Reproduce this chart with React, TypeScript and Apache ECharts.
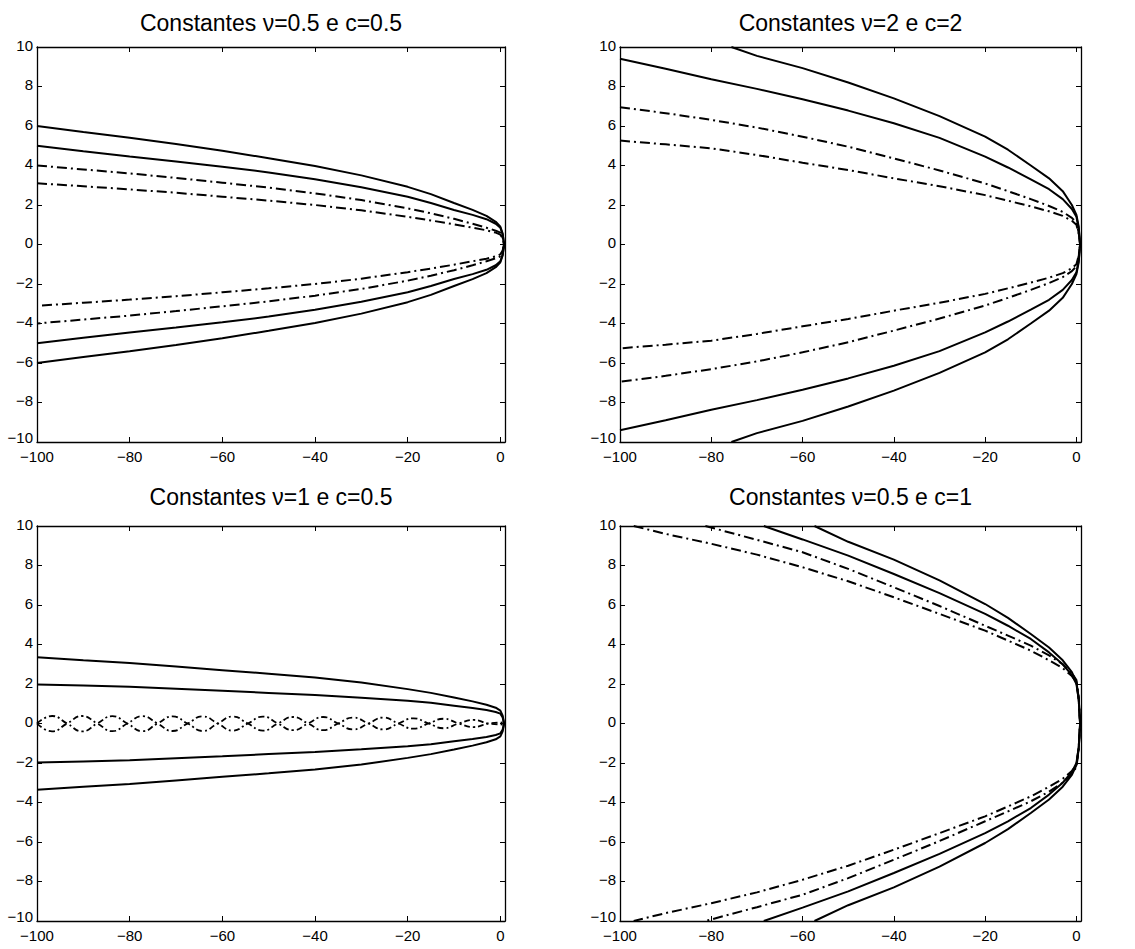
import React, { useEffect, useRef } from "react";
import * as echarts from "echarts";

const xTickValues = [-100, -80, -60, -40, -20, 0];
const yTickValues = [-10, -8, -6, -4, -2, 0, 2, 4, 6, 8, 10];
const titles = [
  "Constantes \u03bd=0.5 e c=0.5",
  "Constantes \u03bd=2 e c=2",
  "Constantes \u03bd=1 e c=0.5",
  "Constantes \u03bd=0.5 e c=1",
];

// ---------- Plot 1: nu=0.5, c=0.5 ----------
const p1X = [-100, -90, -80, -70, -60, -50, -40, -30, -20, -15, -10, -6, -3, -1, 0, 0.5, 0.8];
const p1SolidAUp = [6.0, 5.7, 5.41, 5.09, 4.75, 4.37, 3.97, 3.5, 2.92, 2.55, 2.1, 1.75, 1.45, 1.15, 0.9, 0.55, 0];
const p1SolidALo = [-6.0, -5.7, -5.41, -5.09, -4.75, -4.37, -3.97, -3.5, -2.92, -2.55, -2.1, -1.75, -1.45, -1.15, -0.9, -0.55, 0];
const p1SolidBUp = [5.0, 4.72, 4.45, 4.2, 3.94, 3.65, 3.3, 2.9, 2.42, 2.1, 1.75, 1.5, 1.28, 1.05, 0.85, 0.5, 0];
const p1SolidBLo = [-5.0, -4.72, -4.45, -4.2, -3.94, -3.65, -3.3, -2.9, -2.42, -2.1, -1.75, -1.5, -1.28, -1.05, -0.85, -0.5, 0];
const p1DashAUp = [4.0, 3.8, 3.6, 3.37, 3.13, 2.88, 2.59, 2.25, 1.83, 1.58, 1.3, 1.05, 0.85, 0.7, 0.6, 0.35, 0];
const p1DashALo = [-4.0, -3.8, -3.6, -3.37, -3.13, -2.88, -2.59, -2.25, -1.83, -1.58, -1.3, -1.05, -0.85, -0.7, -0.6, -0.35, 0];
const p1DashBUp = [3.1, 2.95, 2.79, 2.62, 2.42, 2.22, 2.0, 1.73, 1.4, 1.22, 1.02, 0.85, 0.72, 0.6, 0.5, 0.3, 0];
const p1DashBLo = [-3.1, -2.95, -2.79, -2.62, -2.42, -2.22, -2.0, -1.73, -1.4, -1.22, -1.02, -0.85, -0.72, -0.6, -0.5, -0.3, 0];

// ---------- Plot 2: nu=2, c=2 ----------
const p2XA = [-75.6, -70, -60, -50, -40, -30, -20, -15, -10, -6, -3, -1, 0, 0.5, 0.8];
const p2SolidAUp = [10, 9.55, 8.93, 8.2, 7.4, 6.5, 5.46, 4.8, 4.0, 3.35, 2.7, 2.0, 1.5, 0.9, 0];
const p2SolidALo = [-10, -9.55, -8.93, -8.2, -7.4, -6.5, -5.46, -4.8, -4.0, -3.35, -2.7, -2.0, -1.5, -0.9, 0];
const p2X = [-100, -90, -80, -70, -60, -50, -40, -30, -20, -15, -10, -6, -3, -1, 0, 0.5, 0.8];
const p2SolidBUp = [9.4, 8.9, 8.37, 7.88, 7.35, 6.78, 6.14, 5.4, 4.45, 3.9, 3.3, 2.8, 2.3, 1.8, 1.4, 0.8, 0];
const p2SolidBLo = [-9.4, -8.9, -8.37, -7.88, -7.35, -6.78, -6.14, -5.4, -4.45, -3.9, -3.3, -2.8, -2.3, -1.8, -1.4, -0.8, 0];
const p2DashAUp = [6.95, 6.65, 6.31, 5.92, 5.46, 4.95, 4.36, 3.75, 3.09, 2.7, 2.3, 1.95, 1.65, 1.35, 1.1, 0.6, 0];
const p2DashALo = [-6.95, -6.65, -6.31, -5.92, -5.46, -4.95, -4.36, -3.75, -3.09, -2.7, -2.3, -1.95, -1.65, -1.35, -1.1, -0.6, 0];
const p2DashBUp = [5.26, 5.07, 4.87, 4.53, 4.14, 3.77, 3.35, 2.95, 2.5, 2.22, 1.93, 1.68, 1.45, 1.2, 1.0, 0.55, 0];
const p2DashBLo = [-5.26, -5.07, -4.87, -4.53, -4.14, -3.77, -3.35, -2.95, -2.5, -2.22, -1.93, -1.68, -1.45, -1.2, -1.0, -0.55, 0];

// ---------- Plot 3: nu=1, c=0.5 ----------
const p3X = [-100, -90, -80, -70, -60, -50, -40, -30, -20, -15, -10, -6, -3, -1, 0, 0.5, 0.8];
const p3SolidAUp = [3.35, 3.2, 3.06, 2.88, 2.7, 2.52, 2.33, 2.08, 1.74, 1.55, 1.32, 1.12, 0.95, 0.8, 0.65, 0.4, 0];
const p3SolidALo = [-3.35, -3.2, -3.06, -2.88, -2.7, -2.52, -2.33, -2.08, -1.74, -1.55, -1.32, -1.12, -0.95, -0.8, -0.65, -0.4, 0];
const p3SolidBUp = [1.98, 1.92, 1.86, 1.76, 1.66, 1.55, 1.44, 1.31, 1.15, 1.05, 0.9, 0.78, 0.68, 0.58, 0.5, 0.3, 0];
const p3SolidBLo = [-1.98, -1.92, -1.86, -1.76, -1.66, -1.55, -1.44, -1.31, -1.15, -1.05, -0.9, -0.78, -0.68, -0.58, -0.5, -0.3, 0];
const p3WX = [-100, -96.75, -93.5, -90.25, -87, -83.75, -80.5, -77.25, -74, -70.75, -67.5, -64.25, -61, -57.75, -54.5, -51.25, -48, -44.75, -41.5, -38.25, -35, -31.75, -28.5, -25.25, -22, -18.75, -15.5, -12.25, -9, -5.75, -2.5, 0.5];
const p3WaveA = [0, 0.38, 0, -0.4, 0, 0.37, 0, -0.39, 0, 0.36, 0, -0.38, 0, 0.35, 0, -0.36, 0, 0.33, 0, -0.34, 0, 0.3, 0, -0.3, 0, 0.26, 0, -0.24, 0, 0.18, 0, -0.05];
const p3WaveB = [0, -0.4, 0, 0.38, 0, -0.39, 0, 0.37, 0, -0.38, 0, 0.36, 0, -0.36, 0, 0.35, 0, -0.34, 0, 0.33, 0, -0.3, 0, 0.3, 0, -0.26, 0, 0.24, 0, -0.18, 0, 0.05];

// ---------- Plot 4: nu=0.5, c=1 ----------
const p4XA = [-57.4, -50, -40, -30, -20, -15, -10, -6, -3, -1, 0, 0.5, 0.8];
const p4SolidAUp = [10, 9.2, 8.3, 7.25, 6.05, 5.35, 4.53, 3.85, 3.2, 2.6, 2.1, 1.3, 0];
const p4SolidALo = [-10, -9.2, -8.3, -7.25, -6.05, -5.35, -4.53, -3.85, -3.2, -2.6, -2.1, -1.3, 0];
const p4XB = [-68.5, -60, -50, -40, -30, -20, -15, -10, -6, -3, -1, 0, 0.5, 0.8];
const p4SolidBUp = [10, 9.32, 8.5, 7.57, 6.6, 5.55, 4.95, 4.28, 3.6, 3.0, 2.45, 2.0, 1.2, 0];
const p4SolidBLo = [-10, -9.32, -8.5, -7.57, -6.6, -5.55, -4.95, -4.28, -3.6, -3.0, -2.45, -2.0, -1.2, 0];
const p4XC = [-81.3, -70, -60, -50, -40, -30, -20, -15, -10, -6, -3, -1, 0, 0.5, 0.8];
const p4DashAUp = [10, 9.3, 8.67, 7.83, 6.9, 5.95, 4.95, 4.45, 3.94, 3.45, 3.0, 2.55, 2.2, 1.3, 0];
const p4DashALo = [-10, -9.3, -8.67, -7.83, -6.9, -5.95, -4.95, -4.45, -3.94, -3.45, -3.0, -2.55, -2.2, -1.3, 0];
const p4XD = [-97, -90, -80, -70, -60, -50, -40, -30, -20, -15, -10, -6, -3, -1, 0, 0.5, 0.8];
const p4DashBUp = [10, 9.6, 9.1, 8.55, 7.91, 7.2, 6.39, 5.55, 4.7, 4.2, 3.69, 3.2, 2.8, 2.4, 2.1, 1.2, 0];
const p4DashBLo = [-10, -9.6, -9.1, -8.55, -7.91, -7.2, -6.39, -5.55, -4.7, -4.2, -3.69, -3.2, -2.8, -2.4, -2.1, -1.2, 0];

const FONT = "'Liberation Sans', Arial, Helvetica, sans-serif";

const grids = [
  { left: 37, top: 47, width: 468, height: 395 },
  { left: 620, top: 47, width: 461, height: 395 },
  { left: 37, top: 526, width: 468, height: 395 },
  { left: 620, top: 526, width: 461, height: 395 },
];

function closed(xs: number[], up: number[], lo: number[]) {
  const a = xs.map((x, i) => [x, up[i]]);
  const b = xs.map((x, i) => [x, lo[i]]).reverse();
  return a.concat(b);
}

const minus = (v: number) => String(v).replace("-", "\u2212");
const yLabel = (v: number) => (v === -10 ? "{lo|" + minus(v) + "}" : minus(v));

export default function App() {
  const ref = useRef<HTMLDivElement>(null);
  useEffect(() => {
    if (!ref.current) return;
    const chart = echarts.init(ref.current, undefined, { renderer: "svg" });
    const xAxes: any[] = [];
    const yAxes: any[] = [];
    grids.forEach((_, g) => {
      const common = {
        gridIndex: g,
        type: "value",
        axisLine: { show: true, onZero: false, lineStyle: { color: "#000", width: 1.3 } },
        axisTick: { show: true, inside: true, length: 5, lineStyle: { color: "#000", width: 1 } },
        splitLine: { show: false },
      };
      xAxes.push({
        ...common,
        position: "bottom",
        min: -100,
        max: 1,
        axisTick: { ...common.axisTick, customValues: xTickValues },
        axisLabel: {
          customValues: xTickValues,
          formatter: minus,
          color: "#000",
          fontSize: 15,
          fontFamily: FONT,
          margin: 7,
        },
      });
      xAxes.push({
        ...common,
        position: "top",
        min: -100,
        max: 1,
        axisTick: { ...common.axisTick, customValues: xTickValues },
        axisLabel: { show: false },
      });
      yAxes.push({
        ...common,
        position: "left",
        min: -10,
        max: 10,
        interval: 2,
        axisTick: { ...common.axisTick, customValues: yTickValues },
        axisLabel: {
          customValues: yTickValues,
          formatter: yLabel,
          color: "#000",
          fontSize: 15,
          fontFamily: FONT,
          margin: 4,
          padding: [0, 0, 4, 0],
          rich: {
            lo: { fontSize: 15, fontFamily: FONT, color: "#000", padding: [0, 0, 6, 0] },
          },
        },
      });
      yAxes.push({
        ...common,
        position: "right",
        min: -10,
        max: 10,
        interval: 2,
        axisTick: { ...common.axisTick, customValues: yTickValues },
        axisLabel: { show: false },
      });
    });

    const solid = { color: "#000", width: 2, type: "solid" };
    const dashdot = { color: "#000", width: 2, type: [10, 4, 2, 4] };
    const mk = (g: number, data: number[][], style: any, smooth = false) => ({
      type: "line",
      xAxisIndex: g * 2,
      yAxisIndex: g * 2,
      data,
      showSymbol: false,
      symbol: "none",
      clip: true,
      smooth,
      lineStyle: style,
      silent: true,
    });

    const series = [
      mk(0, closed(p1X, p1SolidAUp, p1SolidALo), solid),
      mk(0, closed(p1X, p1SolidBUp, p1SolidBLo), solid),
      mk(0, closed(p1X, p1DashAUp, p1DashALo), dashdot),
      mk(0, closed(p1X, p1DashBUp, p1DashBLo), dashdot),
      mk(1, closed(p2XA, p2SolidAUp, p2SolidALo), solid),
      mk(1, closed(p2X, p2SolidBUp, p2SolidBLo), solid),
      mk(1, closed(p2X, p2DashAUp, p2DashALo), dashdot),
      mk(1, closed(p2X, p2DashBUp, p2DashBLo), dashdot),
      mk(2, closed(p3X, p3SolidAUp, p3SolidALo), solid),
      mk(2, closed(p3X, p3SolidBUp, p3SolidBLo), solid),
      mk(2, p3WX.map((x, i) => [x, p3WaveA[i]]), { ...dashdot, width: 1.8, type: [6, 3, 2, 3] }, true),
      mk(2, p3WX.map((x, i) => [x, p3WaveB[i]]), { ...dashdot, width: 1.8, type: [6, 3, 2, 3] }, true),
      mk(3, closed(p4XA, p4SolidAUp, p4SolidALo), solid),
      mk(3, closed(p4XB, p4SolidBUp, p4SolidBLo), solid),
      mk(3, closed(p4XC, p4DashAUp, p4DashALo), dashdot),
      mk(3, closed(p4XD, p4DashBUp, p4DashBLo), dashdot),
    ];

    const graphic = grids.map((gr, i) => ({
      type: "text",
      x: gr.left + gr.width / 2,
      y: i < 2 ? 23 : 497,
      style: {
        text: titles[i],
        fill: "#000",
        fontSize: 23,
        fontFamily: FONT,
        textAlign: "center",
        textVerticalAlign: "middle",
      },
    }));

    chart.setOption({
      animation: false,
      backgroundColor: "#fff",
      grid: grids.map((g) => ({ ...g, containLabel: false })),
      xAxis: xAxes,
      yAxis: yAxes,
      series,
      graphic,
    });
    return () => chart.dispose();
  }, []);
  return (
    <div
      ref={ref}
      style={{ position: "fixed", left: 0, top: 0, width: 1135, height: 949, background: "#fff" }}
    />
  );
}
